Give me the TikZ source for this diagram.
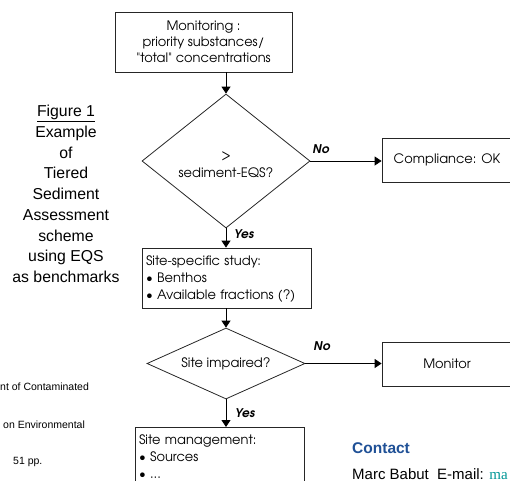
\documentclass[tikz,border=0pt]{standalone}
\usepackage{fontspec}
\setmainfont{Liberation Sans}
\newfontfamily\gothic{texgyreadventor}[Extension=.otf, UprightFont=*-regular, BoldFont=*-bold, ItalicFont=*-italic, BoldItalicFont=*-bolditalic]
\newfontfamily\serifm{Liberation Serif}
\usetikzlibrary{shapes.geometric,arrows.meta}
\definecolor{contactblue}{RGB}{31,80,150}
\definecolor{mailteal}{RGB}{0,150,150}
\tikzset{
  box/.style={draw=black!85, line width=0.8pt, rectangle, inner sep=0pt, align=center,
              font=\gothic\fontsize{13}{16}\selectfont},
  dia/.style={draw=black!85, line width=0.8pt, diamond, inner sep=0pt, align=center,
              font=\gothic\fontsize{13}{18}\selectfont},
  arr/.style={line width=0.8pt, -{Triangle[length=7pt,width=9pt]}},
  lab/.style={font=\gothic\bfseries\itshape\fontsize{12}{14}\selectfont, inner sep=0pt},
  side/.style={font=\fontsize{15.8}{20.7}\selectfont, align=center, inner sep=0pt},
  refline/.style={font=\fontsize{10.5}{12}\selectfont, inner sep=0pt, anchor=west},
}
\begin{document}
\begin{tikzpicture}[x=1pt,y=-1pt]
\useasboundingbox (0,0) rectangle (510,480);
\clip (0,0) rectangle (510,480);

\node[box, minimum width=177pt, minimum height=60pt] (m1) at (203.5,42)
  {Monitoring :\\priority substances/\\"total" concentrations};
\node[dia, minimum width=168pt, minimum height=134pt, aspect=1.25] (d1) at (226,161)
  {\rule{0pt}{15pt}>\\sediment-EQS?};
\node[box, minimum width=130pt, minimum height=44pt] (ok) at (447,160) {Compliance: OK};
\node[box, align=left, text width=161pt, inner xsep=4pt, minimum height=60pt,
      font=\gothic\fontsize{13}{17}\selectfont] (b2) at (226.5,278)
  {\rule{0pt}{12pt}Site-specific study:\\• Benthos\\• Available fractions (?)};
\node[dia, minimum width=158pt, minimum height=71pt, aspect=2.2] (d2) at (226,363.5)
  {Site impaired?};
\node[box, minimum width=130pt, minimum height=44pt] (mon) at (447,364) {Monitor};
\node[box, anchor=north, align=left, text width=161pt, inner xsep=4pt, inner ysep=7pt,
      font=\gothic\fontsize{13}{17}\selectfont] (b3) at (219.5,427)
  {Site management:\\• Sources\\• ...\\ \mbox{}};

\draw[arr] (m1.south -| d1.north) -- (d1.north);
\draw[arr] (d1.east) -- (d1.east -| ok.west);
\node[lab] (no1) at (321,149) {No};
\draw[arr] (d1.south) -- (d1.south |- b2.north);
\node[lab] (yes1) at (244,234) {Yes};
\draw[arr] (b2.south -| d2.north) -- (d2.north);
\draw[arr] (d2.east) -- (d2.east -| mon.west);
\node[lab] (no2) at (322,346) {No};
\draw[arr] (d2.south) -- (d2.south |- b3.north);
\node[lab] (yes2) at (245,413) {Yes};

\node[side] (side) at (66,194)
  {\underline{Figure 1}\\Example\\of\\Tiered\\Sediment\\Assessment\\scheme\\using EQS\\as benchmarks};

\node[refline] (r1) at (0,387) {nt of Contaminated};
\node[refline] (r2) at (3,425) {on Environmental};
\node[refline] (r3) at (13,462) {51 pp.};

\node[font=\bfseries\fontsize{15.5}{18}\selectfont, text=contactblue, anchor=west, inner sep=0pt]
  (ct) at (352,448) {Contact};
\node[font=\fontsize{15}{18}\selectfont, anchor=west, inner sep=0pt]
  (mb) at (352,474) {Marc Babut\ \ E-mail: {\serifm\color{mailteal}ma}};
\end{tikzpicture}
\end{document}
